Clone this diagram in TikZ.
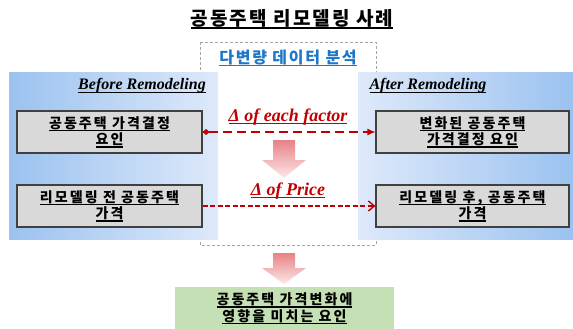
\documentclass[tikz,border=0pt]{standalone}
\usepackage{fontspec}
\setmainfont{Liberation Serif}
\newfontfamily\kr{Noto Sans CJK KR}[LetterSpace=15]
\newfontfamily\krt{Noto Sans CJK KR}[LetterSpace=11]
\usetikzlibrary{arrows.meta}
\definecolor{panelA}{RGB}{155,194,240}
\definecolor{panelB}{RGB}{222,233,250}
\definecolor{boxfill}{RGB}{217,217,217}
\definecolor{boxline}{RGB}{64,64,64}
\definecolor{dred}{RGB}{192,0,0}
\definecolor{tblue}{RGB}{30,118,200}
\definecolor{pinkA}{RGB}{232,130,134}
\definecolor{pinkB}{RGB}{252,232,232}
\definecolor{gfill}{RGB}{197,224,180}
\newcommand\myul[1]{\setbox0\hbox{#1}\leavevmode\rlap{\vrule width\wd0 height -1.8pt depth 3.0pt}\box0}
\begin{document}
\begin{tikzpicture}[x=1pt,y=-1pt,
  factorbox/.style={draw=boxline,line width=1.1pt,fill=boxfill,minimum width=185pt,minimum height=42pt,inner sep=0pt,align=center,font=\kr\bfseries\fontsize{14}{16.5}\selectfont},
  panellabel/.style={font=\bfseries\itshape\fontsize{16}{18}\selectfont},
  deltalabel/.style={text=dred,font=\bfseries\itshape\fontsize{18}{20}\selectfont},
  bigarrow/.style={top color=pinkA,bottom color=pinkB,draw=none}]
\useasboundingbox (0,0) rectangle (573,329);
% dashed analysis frame
\draw[gray!70,dashed,line width=0.9pt,dash pattern=on 3pt off 2pt] (200,42) rectangle (376,245);
% panels
\path[left color=panelA,right color=panelB] (9,73) rectangle (218,239);
\path[left color=panelB,right color=panelA] (358,73) rectangle (573,239);
% title
\node[font=\krt\bfseries\fontsize{19}{22}\selectfont] (title) at (292,19) {\myul{공동주택 리모델링 사례}};
\node[font=\krt\bfseries\fontsize{16}{19}\selectfont,text=tblue] (analysis) at (288,58) {\myul{다변량 데이터 분석}};
\node[panellabel] (before) at (142,86) {\myul{Before Remodeling}};
\node[panellabel] (after) at (428,86) {\myul{After Remodeling}};
% boxes
\node[factorbox] (b1) at (109.5,132) {\myul{공동주택 가격결정}\\\myul{요인}};
\node[factorbox] (b2) at (109.5,206) {\myul{리모델링 전 공동주택}\\\myul{가격}};
\node[factorbox,minimum width=193pt] (b3) at (472.5,132) {\myul{변화된 공동주택}\\\myul{가격결정 요인}};
\node[factorbox,minimum width=193pt] (b4) at (472.5,206) {\myul{리모델링 후, 공동주택}\\\myul{가격}};
% connectors
\draw[dred,line width=1.1pt,dash pattern=on 9pt off 5pt,{Diamond[length=7pt,width=6pt]}-{Latex[length=8pt,width=7pt]}] (b1.east) -- (b3.west);
\draw[dred,line width=1.4pt,dash pattern=on 5pt off 2.5pt,-{Straight Barb[length=6pt,width=10pt]}] (b2.east) -- (b4.west);
\node[deltalabel] (d1) at (288,117) {\myul{Δ of each factor}};
\node[deltalabel] (d2) at (288,191) {\myul{Δ of Price}};
% pink arrows
\path[bigarrow] (273,140) -- (295,140) -- (295,160) -- (306,160) -- (284,178) -- (262,160) -- (273,160) -- cycle;
\path[bigarrow] (273,253) -- (295,253) -- (295,268) -- (306,268) -- (284,284) -- (262,268) -- (273,268) -- cycle;
% result box
\node[fill=gfill,minimum width=219pt,minimum height=43pt,inner sep=0pt,align=center,font=\kr\bfseries\fontsize{14}{16.5}\selectfont] (result) at (284.5,308.5) {\myul{공동주택 가격변화에}\\\myul{영향을 미치는 요인}};
\end{tikzpicture}
\end{document}
